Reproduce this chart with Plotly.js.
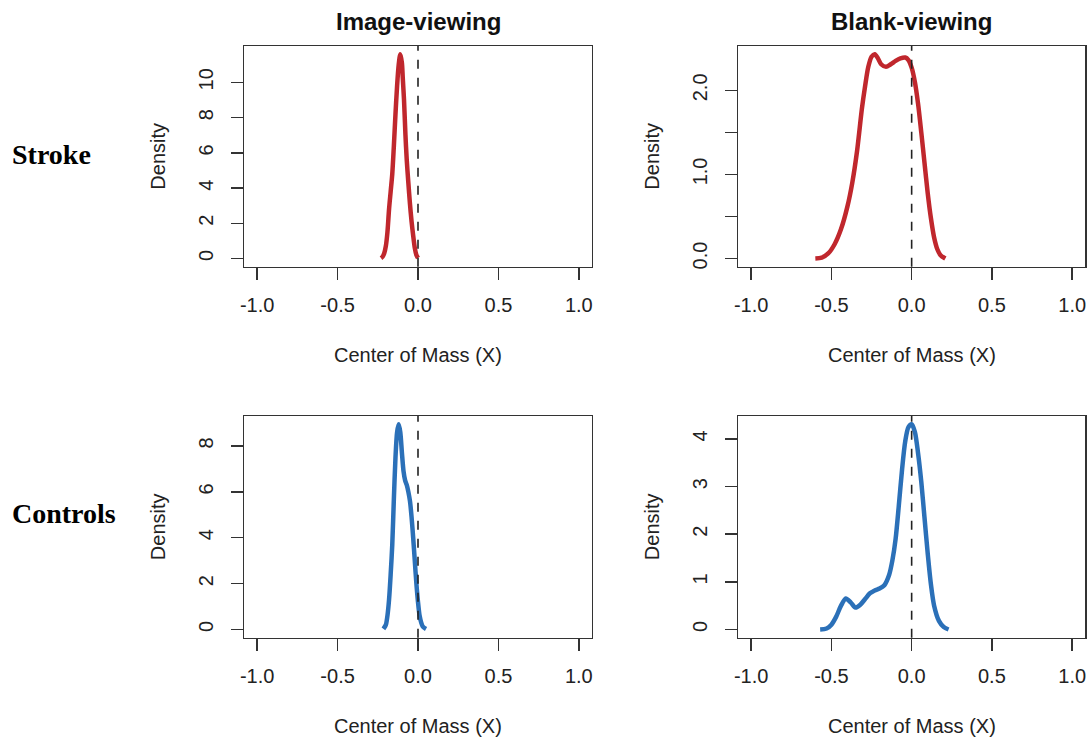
<!DOCTYPE html>
<html>
<head>
<meta charset="utf-8">
<script src="https://cdn.plot.ly/plotly-3.0.1.min.js"></script>
<style>html,body{margin:0;padding:0;background:#fff;}#chart{width:1089px;height:740px;}</style>
</head>
<body>
<div id="chart"></div>
<script>
// ---- Data ----
const colTitles = ["Image-viewing", "Blank-viewing"];
const rowLabels = ["Stroke", "Controls"];
const xLabel = "Center of Mass (X)";
const yLabel = "Density";
const xTicks = [-1.0, -0.5, 0.0, 0.5, 1.0];
const xTickText = ["-1.0", "-0.5", "0.0", "0.5", "1.0"];

// Stroke, image-viewing
const strokeImageX = [-0.23, -0.22, -0.21, -0.20, -0.19, -0.18, -0.17, -0.16, -0.15, -0.14, -0.13, -0.12, -0.11, -0.10, -0.095, -0.087, -0.078, -0.07, -0.06, -0.05, -0.04, -0.03, -0.02, -0.01, 0.0];
const strokeImageY = [0.02, 0.1, 0.3, 0.7, 1.5, 2.8, 3.8, 4.8, 6.4, 8.2, 9.8, 11.0, 11.6, 11.1, 10.3, 9.0, 7.0, 5.6, 4.3, 3.1, 2.1, 1.3, 0.6, 0.2, 0.03];

// Stroke, blank-viewing
const strokeBlankX = [-0.60, -0.56, -0.52, -0.48, -0.44, -0.40, -0.37, -0.34, -0.31, -0.29, -0.27, -0.25, -0.23, -0.21, -0.19, -0.16, -0.13, -0.10, -0.07, -0.04, -0.02, 0.0, 0.02, 0.04, 0.06, 0.08, 0.10, 0.12, 0.14, 0.16, 0.18, 0.21];
const strokeBlankY = [0.0, 0.01, 0.06, 0.17, 0.35, 0.62, 0.90, 1.28, 1.78, 2.05, 2.28, 2.40, 2.43, 2.38, 2.31, 2.28, 2.31, 2.35, 2.38, 2.39, 2.36, 2.27, 2.10, 1.84, 1.50, 1.14, 0.78, 0.48, 0.25, 0.11, 0.04, 0.0];

// Controls, image-viewing
const ctrlImageX = [-0.215, -0.20, -0.19, -0.18, -0.17, -0.16, -0.15, -0.14, -0.13, -0.12, -0.11, -0.10, -0.09, -0.08, -0.07, -0.06, -0.05, -0.04, -0.03, -0.02, -0.01, 0.0, 0.01, 0.02, 0.03, 0.05];
const ctrlImageY = [0.03, 0.2, 0.6, 1.3, 2.4, 3.7, 5.7, 7.5, 8.6, 8.95, 8.6, 7.7, 6.9, 6.5, 6.3, 6.0, 5.6, 4.9, 4.0, 3.0, 2.0, 1.2, 0.6, 0.3, 0.12, 0.02];

// Controls, blank-viewing
const ctrlBlankX = [-0.57, -0.53, -0.50, -0.47, -0.44, -0.41, -0.38, -0.35, -0.32, -0.29, -0.26, -0.23, -0.20, -0.17, -0.14, -0.12, -0.10, -0.08, -0.06, -0.04, -0.02, 0.0, 0.02, 0.04, 0.06, 0.08, 0.10, 0.12, 0.14, 0.17, 0.20, 0.23];
const ctrlBlankY = [0.0, 0.02, 0.1, 0.27, 0.5, 0.65, 0.57, 0.46, 0.52, 0.64, 0.76, 0.82, 0.86, 0.93, 1.15, 1.45, 1.9, 2.6, 3.35, 3.95, 4.25, 4.31, 4.15, 3.7, 3.1, 2.35, 1.6, 0.95, 0.5, 0.18, 0.05, 0.0];

const yTicks1 = [0, 2, 4, 6, 8, 10];
const yTicks2 = [0, 0.5, 1.0, 1.5, 2.0];
const yTickText2 = ["0.0", "", "1.0", "", "2.0"];
const yTicks3 = [0, 2, 4, 6, 8];
const yTicks4 = [0, 1, 2, 3, 4];

// ---- Styling ----
const RED = "#c0272d";
const BLUE = "#2b70b8";
const AX = "#333333";
const FONT = "Liberation Sans, Arial, sans-serif";

function densRange(ys) {
  const m = Math.max(...ys);
  return [-0.04 * m, 1.04 * m];
}

const traces = [
  {x: strokeImageX, y: strokeImageY, xaxis: "x", yaxis: "y", color: RED},
  {x: strokeBlankX, y: strokeBlankY, xaxis: "x2", yaxis: "y2", color: RED},
  {x: ctrlImageX, y: ctrlImageY, xaxis: "x3", yaxis: "y3", color: BLUE},
  {x: ctrlBlankX, y: ctrlBlankY, xaxis: "x4", yaxis: "y4", color: BLUE}
].map(t => ({
  type: "scatter", mode: "lines", x: t.x, y: t.y, xaxis: t.xaxis, yaxis: t.yaxis,
  line: {color: t.color, width: 4.5, shape: "spline", smoothing: 0.8},
  hoverinfo: "x+y", showlegend: false
}));

const W = 1089, H = 740;
const colDom = [[244.3 / W, 591.7 / W], [738.3 / W, 1085 / W]];
const rowDom = [[1 - 266.7 / H, 1 - 46 / H], [1 - 637.7 / H, 1 - 416 / H]];

function xAxis(dom, anchor) {
  return {
    domain: dom, anchor: anchor, range: [-1.08, 1.08],
    tickvals: xTicks, ticktext: xTickText,
    ticks: "outside", ticklen: 12, tickwidth: 1.5, tickcolor: AX,
    showline: true, linecolor: AX, linewidth: 1.5, mirror: true,
    showgrid: false, zeroline: false,
    tickfont: {family: FONT, size: 20, color: "#222"},
    ticklabelstandoff: 8, fixedrange: true
  };
}
function yAxis(dom, anchor, ys, vals, text) {
  return {
    domain: dom, anchor: anchor, range: densRange(ys),
    tickvals: vals, ticktext: text,
    ticks: "outside", ticklen: 12, tickwidth: 1.5, tickcolor: AX,
    showline: true, linecolor: AX, linewidth: 1.5, mirror: true,
    showgrid: false, zeroline: false, tickangle: -90,
    tickfont: {family: FONT, size: 20, color: "#222"},
    ticklabelstandoff: 10, fixedrange: true
  };
}

const annotations = [];
const shapes = [];
const axIds = [["x", "y"], ["x2", "y2"], ["x3", "y3"], ["x4", "y4"]];
axIds.forEach(([xa, ya], i) => {
  // dashed reference line at x = 0
  shapes.push({type: "line", xref: xa, yref: ya + " domain", x0: 0, x1: 0, y0: 0, y1: 1,
    line: {color: "#222", width: 1.6, dash: "dash"}, layer: "above"});
  annotations.push({text: xLabel, xref: xa + " domain", yref: ya + " domain", x: 0.5, y: 0,
    yanchor: "middle", xanchor: "center", yshift: -88, showarrow: false,
    font: {family: FONT, size: 20, color: "#222"}});
  annotations.push({text: yLabel, xref: xa + " domain", yref: ya + " domain", x: 0, y: 0.5,
    xanchor: "center", yanchor: "middle", xshift: -86, textangle: -90, showarrow: false,
    font: {family: FONT, size: 20, color: "#222"}});
});
colTitles.forEach((t, i) => {
  annotations.push({text: "<b>" + t + "</b>", xref: "paper", yref: "paper",
    x: (colDom[i][0] + colDom[i][1]) / 2, y: 1 - 21.7 / H, xanchor: "center", yanchor: "middle",
    showarrow: false, font: {family: FONT, size: 24, color: "#111"}});
});
const rowY = [155, 513];
rowLabels.forEach((t, i) => {
  annotations.push({text: "<b>" + t + "</b>", xref: "paper", yref: "paper",
    x: 10 / W, y: 1 - rowY[i] / H, xanchor: "left", yanchor: "middle",
    showarrow: false, font: {family: "Liberation Serif, Times New Roman, serif", size: 28, color: "#000"}});
});

const layout = {
  width: W, height: H, margin: {l: 0, r: 0, t: 0, b: 0},
  paper_bgcolor: "#fff", plot_bgcolor: "#fff", showlegend: false,
  xaxis: xAxis(colDom[0], "y"), yaxis: yAxis(rowDom[0], "x", strokeImageY, yTicks1, yTicks1.map(String)),
  xaxis2: xAxis(colDom[1], "y2"), yaxis2: yAxis(rowDom[0], "x2", strokeBlankY, yTicks2, yTickText2),
  xaxis3: xAxis(colDom[0], "y3"), yaxis3: yAxis(rowDom[1], "x3", ctrlImageY, yTicks3, yTicks3.map(String)),
  xaxis4: xAxis(colDom[1], "y4"), yaxis4: yAxis(rowDom[1], "x4", ctrlBlankY, yTicks4, yTicks4.map(String)),
  annotations: annotations, shapes: shapes
};

Plotly.newPlot("chart", traces, layout, {displayModeBar: false, staticPlot: true});
</script>
</body>
</html>
